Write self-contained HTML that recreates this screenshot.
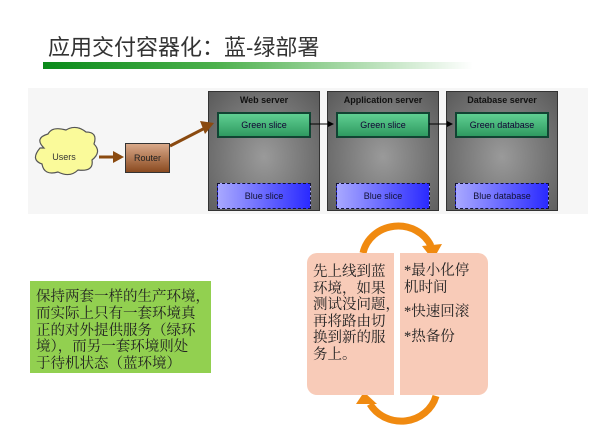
<!DOCTYPE html>
<html><head><meta charset="utf-8"><style>
body{margin:0;width:600px;height:440px;background:#fff;overflow:hidden;position:relative;font-family:"Liberation Sans","Noto Sans CJK SC",sans-serif}
.a{position:absolute}
.srv{position:absolute;top:91px;width:112px;height:120px;background:radial-gradient(ellipse at 50% 55%,#9a9a9a,#5a5a5a);border:1px solid #333;box-sizing:border-box}
.srv .h{position:absolute;top:3px;width:100%;text-align:center;font-size:9px;font-weight:bold;color:#111}
.g{position:absolute;left:8px;top:20px;width:94px;height:26px;background:linear-gradient(#5fcf92,#2f9a60);border:2px solid #143;box-sizing:border-box;font-size:9px;color:#103;text-align:center;line-height:22px}
.b{position:absolute;left:8px;top:91px;width:94px;height:26px;background:linear-gradient(90deg,#a8a8ff,#2a2aff);border:1px dashed #113;box-sizing:border-box;font-size:9px;color:#113;text-align:center;line-height:24px}
.cn{font-family:"Liberation Serif","Noto Serif CJK SC",serif;font-size:14.5px;line-height:16.5px;color:#222;white-space:nowrap}
</style></head><body>
<div class="a" style="left:48px;top:30px;font-size:22px;color:#333">应用交付容器化：蓝-绿部署</div>
<div class="a" style="left:43px;top:62px;width:430px;height:7px;background:linear-gradient(90deg,#0a8a1a,#4cb04c 40%,rgba(255,255,255,0))"></div>
<div class="a" style="left:28px;top:88px;width:560px;height:126px;background:#f6f6f6"></div>
<div class="srv" style="left:208px"><div class="h">Web server</div><div class="g">Green slice</div><div class="b">Blue slice</div></div>
<div class="srv" style="left:327px"><div class="h">Application server</div><div class="g">Green slice</div><div class="b">Blue slice</div></div>
<div class="srv" style="left:446px"><div class="h">Database server</div><div class="g">Green database</div><div class="b">Blue database</div></div>
<svg class="a" style="left:0;top:0" width="600" height="440">
<defs><marker id="m" markerWidth="6" markerHeight="6" refX="5" refY="3" orient="auto"><path d="M0,0L6,3L0,6z" fill="#000"/></marker></defs>
<path d="M44,148 q-10,-10 4,-14 q4,-8 18,-4 q10,-6 20,2 q12,0 8,12 q8,8 -2,16 q2,12 -14,10 q-8,8 -20,2 q-14,4 -16,-8 q-12,-4 -2,-16z" fill="#fafa9a" stroke="#555" stroke-width="1.2"/>
<text x="64" y="160" font-size="9" text-anchor="middle" fill="#333">Users</text>
<line x1="99" y1="157" x2="116" y2="157" stroke="#8a4a10" stroke-width="3"/>
<path d="M113,151L124,157L113,163z" fill="#8a4a10"/>
<line x1="170" y1="146" x2="205" y2="128" stroke="#8a4a10" stroke-width="3"/>
<path d="M200,121L214,123L205,134z" fill="#8a4a10"/>
<line x1="310" y1="124" x2="333" y2="124" stroke="#000" stroke-width="1" marker-end="url(#m)"/>
<line x1="429" y1="124" x2="452" y2="124" stroke="#000" stroke-width="1" marker-end="url(#m)"/>
<path d="M363,253 A36,34 0 0 1 431,246" fill="none" stroke="#f08a10" stroke-width="7"/>
<path d="M422,246L442,244L433,260z" fill="#f08a10"/>
<path d="M436,396 A36,34 0 0 1 370,404" fill="none" stroke="#f08a10" stroke-width="7"/>
<path d="M356,404L377,404L364,392z" fill="#f08a10"/>
</svg>
<div class="a" style="left:125px;top:143px;width:45px;height:30px;background:linear-gradient(#d9a98a,#8a4a20);border:1px solid #333;box-sizing:border-box;font-size:9px;text-align:center;line-height:28px;color:#222">Router</div>
<div class="a cn" style="left:30px;top:281px;width:181px;height:92px;background:#92d050;box-sizing:border-box;padding:8px 0 0 6px;line-height:16.8px">保持两套一样的生产环境，<br>而实际上只有一套环境真<br>正的对外提供服务（绿环<br>境），而另一套环境则处<br>于待机状态（蓝环境）</div>
<div class="a cn" style="left:307px;top:253px;width:87px;height:142px;background:#f8cbb8;border-radius:10px 0 0 10px;padding:11px 0 0 6px;box-sizing:border-box">先上线到蓝<br>环境，如果<br>测试没问题，<br>再将路由切<br>换到新的服<br>务上。</div>
<div class="a cn" style="left:400px;top:253px;width:88px;height:142px;background:#f8cbb8;border-radius:0 10px 10px 0;padding:10px 0 0 4px;box-sizing:border-box">*最小化停<br>机时间<div style="height:8px"></div>*快速回滚<div style="height:8px"></div>*热备份</div>
</body></html>
